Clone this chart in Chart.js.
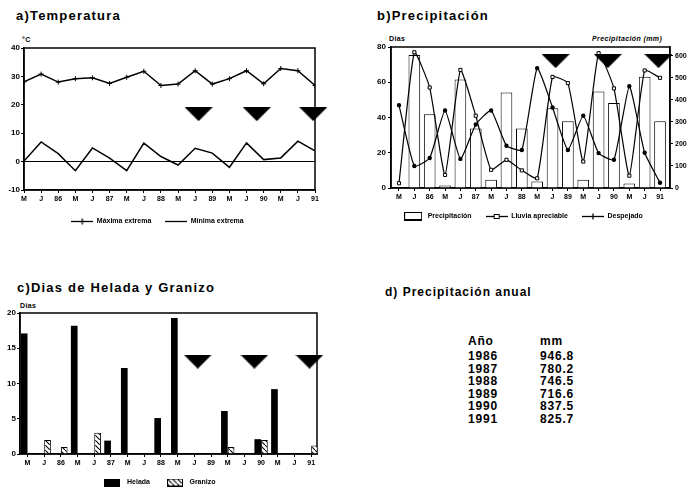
<!DOCTYPE html>
<html><head><meta charset="utf-8">
<script src="https://cdn.jsdelivr.net/npm/chart.js@4"></script>
<style>
body{margin:0;width:690px;height:490px;background:#fff;position:relative;overflow:hidden;font-family:"Liberation Sans",Arial,sans-serif;color:#000}
.t{position:absolute;font-weight:bold;font-size:13px;letter-spacing:1.2px;white-space:nowrap;line-height:14px}
.s{position:absolute;font-weight:bold;font-size:7px;letter-spacing:0.4px;white-space:nowrap;line-height:8px}
.r{position:absolute;font-weight:bold;font-size:12px;letter-spacing:0.8px;white-space:nowrap;line-height:12px}
canvas{position:absolute}
</style></head><body>
<div class="t" style="left:16px;top:9px">a)Temperatura</div>
<div class="t" style="left:377px;top:9px">b)Precipitación</div>
<div class="t" style="left:17px;top:281px">c)Dias de Helada y Granizo</div>
<div class="t" style="left:385px;top:285px;font-size:12px;letter-spacing:1px">d) Precipitación anual</div>
<div class="s" style="left:22px;top:36px">°C</div>
<div class="s" style="left:389px;top:35px">Dias</div>
<div class="s" style="left:592px;top:35px;font-style:italic">Precipitación (mm)</div>
<div class="s" style="left:20px;top:302px">Dias</div>
<div id="tbl"></div>
<canvas id="ca" width="340" height="205" style="left:0;top:30px"></canvas>
<canvas id="cb" width="335" height="200" style="left:355px;top:30px"></canvas>
<canvas id="cc" width="340" height="196" style="left:0;top:300px"></canvas>
<script>
// ---- data ----
const periods = ["M","J","86","M","J","87","M","J","88","M","J","89","M","J","90","M","J","91"];
const tempMax = [28.1,30.8,28,29.2,29.5,27.5,29.7,31.8,26.8,27.3,32,27.3,29.2,32,27.4,32.8,32,26.8];
const tempMin = [0.2,6.9,2.8,-3.2,4.8,1.2,-3.2,6.5,1.8,-1.2,4.7,3,-2,6.6,0.7,1.3,7.2,3.8];
const precipMm = [0,604,335,11,493,270,37,434,270,30,362,303,37,438,386,20,505,303];
const rainDays = [2.7,77,57,7.4,67,41,10.3,16,10,5.5,63,59.5,15,76.5,56.5,7,66.7,62.5];
const clearDays = [47,12.5,17,44,16.5,36,44,24,21.6,68,45.7,21.6,41,19.8,16,57.7,20,3];
const frostDays = [17.1,0,0,18.2,0,1.9,12.2,0,5.1,19.3,0,0,6.1,0,2.1,9.2,0,0];
const hailDays = [0,2,1,0,3,0,0,0,0,0,0,0,1,0,2,0,0,1.2];
const ninoX = [10.2,13.6,16.9];
const annualYears = ["1986","1987","1988","1989","1990","1991"];
const annualMm = ["946.8","780.2","746.5","716.6","837.5","825.7"];

// ---- table d ----
const tbl = document.getElementById('tbl');
function addTxt(txt, l, t){const d=document.createElement('div');d.className='r';d.style.left=l+'px';d.style.top=t+'px';d.textContent=txt;tbl.appendChild(d);}
addTxt('Año',468,335); addTxt('mm',540,335);
annualYears.forEach((y,i)=>{addTxt(y,468,350+i*12.5); addTxt(annualMm[i],540,350+i*12.5);});

// ---- helpers ----
function mkImg(w,h,draw){const c=document.createElement('canvas');c.width=w;c.height=h;draw(c.getContext('2d'),w,h);return c;}
const triImg = mkImg(28,14,(x,w,h)=>{x.fillStyle='#000';x.beginPath();x.moveTo(0,0);x.lineTo(w,0);x.lineTo(w/2,h);x.closePath();x.fill();});
const hatchTile = mkImg(5,5,(x)=>{x.fillStyle='#fff';x.fillRect(0,0,5,5);x.strokeStyle='#000';x.lineWidth=1.1;x.beginPath();x.moveTo(-1,-1);x.lineTo(6,6);x.stroke();});
const hatch = document.createElement('canvas').getContext('2d').createPattern(hatchTile,'repeat');
function lineImg(mark){return mkImg(22,7,(x,w,h)=>{x.strokeStyle='#000';x.lineWidth=1.3;x.beginPath();x.moveTo(0,3.5);x.lineTo(22,3.5);x.stroke();
  if(mark==='plus'){x.beginPath();x.moveTo(11,0.5);x.lineTo(11,6.5);x.stroke();}
  if(mark==='sq'){x.fillStyle='#fff';x.lineWidth=1;x.fillRect(8.5,1.5,5,4);x.strokeRect(8.5,1.5,5,4);} });}
const imgMax = lineImg('plus'), imgMin = lineImg(''), imgRain = lineImg('sq'), imgClear = lineImg('plus');
const imgPrec = mkImg(18,9,(x)=>{x.strokeStyle='#000';x.lineWidth=1;x.strokeRect(0.5,0.5,17,8);x.lineWidth=2;x.beginPath();x.moveTo(0,8);x.lineTo(18,8);x.stroke();});
const imgFrost = mkImg(16,8,(x)=>{x.fillStyle='#000';x.fillRect(0,0,16,8);});
const imgHail = mkImg(16,8,(x)=>{x.fillStyle=x.createPattern(hatchTile,'repeat');x.fillRect(0,0,16,8);x.strokeStyle='#000';x.lineWidth=1;x.strokeRect(0.5,0.5,15,7);});

Chart.defaults.font.family = "'Liberation Sans', Arial, sans-serif";
Chart.defaults.font.weight = 'bold';
Chart.defaults.font.size = 8;
Chart.defaults.color = '#000';
Chart.defaults.animation = false;
Chart.defaults.plugins.tooltip.enabled = false;

const frame = {id:'frame', beforeDatasetsDraw(ch){const a=ch.chartArea,c=ch.ctx;c.save();c.strokeStyle='#000';c.lineWidth=1.5;c.strokeRect(a.left,a.top,a.right-a.left,a.bottom-a.top);c.restore();}};

function xAxis(min,max,h){return {type:'linear',min,max,offset:false,
  afterBuildTicks(s){s.ticks=periods.map((_,i)=>({value:i}));},
  ticks:{autoSkip:false,maxRotation:0,padding:2,font:{size:7},callback:(v)=>periods[v]??''},
  grid:{drawOnChartArea:false,offset:false,tickLength:3,tickColor:'#000'},
  border:{color:'#000',width:1.5},
  afterFit(s){s.height=h;}};}
function legend(items){return {position:'bottom',labels:{usePointStyle:true,pointStyleWidth:22,padding:14,font:{size:7},
  generateLabels:()=>items.map(it=>({text:it.text,pointStyle:it.img,fillStyle:'#000',strokeStyle:'#000',lineWidth:0,hidden:false,fontColor:'#000'}))}};}
const xy = (arr)=>arr.map((y,i)=>({x:i,y}));
function nino(y,axis){const d={type:'line',label:'nino',data:ninoX.map(x=>({x,y})),showLine:false,pointStyle:triImg,pointRadius:5,clip:false,order:0};if(axis)d.yAxisID=axis;return d;}

// ---- a) Temperatura ----
new Chart(document.getElementById('ca'),{type:'line',
  data:{datasets:[
    {label:'Máxima extrema',data:xy(tempMax),borderColor:'#000',borderWidth:1.5,pointStyle:'cross',pointRadius:2.5,pointBorderWidth:1,pointBorderColor:'#000',tension:0},
    {label:'Mínima extrema',data:xy(tempMin),borderColor:'#000',borderWidth:1.5,pointRadius:0,tension:0},
    nino(16.7)]},
  options:{responsive:false,layout:{padding:{left:0,right:25,top:18,bottom:0}},
    scales:{x:xAxis(0,17,14),
      y:{min:-10,max:40,ticks:{stepSize:10,padding:1},
        grid:{color:(c)=>c.tick&&c.tick.value===0?'#000':'rgba(0,0,0,0)',tickColor:'#000',tickLength:3,lineWidth:1},
        border:{color:'#000',width:1.5},afterFit(s){s.width=24;}}},
    plugins:{legend:legend([{text:'Máxima extrema',img:imgMax},{text:'Mínima extrema',img:imgMin}])}},
  plugins:[frame]});

// ---- b) Precipitación ----
new Chart(document.getElementById('cb'),{type:'bar',
  data:{datasets:[
    {type:'bar',label:'Precipitación',data:xy(precipMm),yAxisID:'y2',backgroundColor:'#fff',borderColor:'#000',borderWidth:1,barPercentage:0.76,categoryPercentage:1,order:3},
    {type:'line',label:'Lluvia apreciable',data:xy(rainDays),yAxisID:'y',borderColor:'#000',borderWidth:1.2,pointStyle:'rect',pointRadius:2.2,pointBackgroundColor:'#fff',pointBorderColor:'#000',pointBorderWidth:1,tension:0.15,order:1},
    {type:'line',label:'Despejado',data:xy(clearDays),yAxisID:'y',borderColor:'#000',borderWidth:1.2,pointStyle:'circle',pointRadius:1.6,pointBackgroundColor:'#000',pointBorderColor:'#000',tension:0.15,order:2},
    nino(72,'y')]},
  options:{responsive:false,layout:{padding:{left:0,right:0,top:17,bottom:0}},
    scales:{x:xAxis(-0.52,17.65,11),
      y:{position:'left',min:0,max:80,ticks:{stepSize:20,padding:2},
        grid:{drawOnChartArea:false,tickColor:'#000',tickLength:3},border:{color:'#000',width:1.5},afterFit(s){s.width=36;}},
      y2:{position:'right',min:0,max:640,afterBuildTicks(s){s.ticks=s.ticks.filter(t=>t.value<=600&&t.value%100===0);},
        ticks:{stepSize:100,padding:2,font:{size:7}},
        grid:{drawOnChartArea:false,tickColor:'#000',tickLength:3},border:{color:'#000',width:1.5},afterFit(s){s.width=20;}}},
    plugins:{legend:legend([{text:'Precipitación',img:imgPrec},{text:'Lluvia apreciable',img:imgRain},{text:'Despejado',img:imgClear}])}},
  plugins:[frame]});

// ---- c) Helada y Granizo ----
new Chart(document.getElementById('cc'),{type:'bar',
  data:{datasets:[
    {type:'bar',label:'Helada',data:xy(frostDays),backgroundColor:'#000',borderColor:'#000',borderWidth:0,barPercentage:1,categoryPercentage:0.8,order:2},
    {type:'bar',label:'Granizo',data:xy(hailDays),backgroundColor:hatch,borderColor:'#000',borderWidth:1,barPercentage:1,categoryPercentage:0.8,order:2},
    nino(13.1)]},
  options:{responsive:false,layout:{padding:{left:0,right:23,top:13,bottom:0}},
    scales:{x:xAxis(-0.45,17.35,11),
      y:{min:0,max:20,ticks:{stepSize:5,padding:1},
        grid:{drawOnChartArea:false,tickColor:'#000',tickLength:3},border:{color:'#000',width:1.5},afterFit(s){s.width=20;}}},
    plugins:{legend:legend([{text:'Helada',img:imgFrost},{text:'Granizo',img:imgHail}])}},
  plugins:[frame]});
</script>
</body></html>
